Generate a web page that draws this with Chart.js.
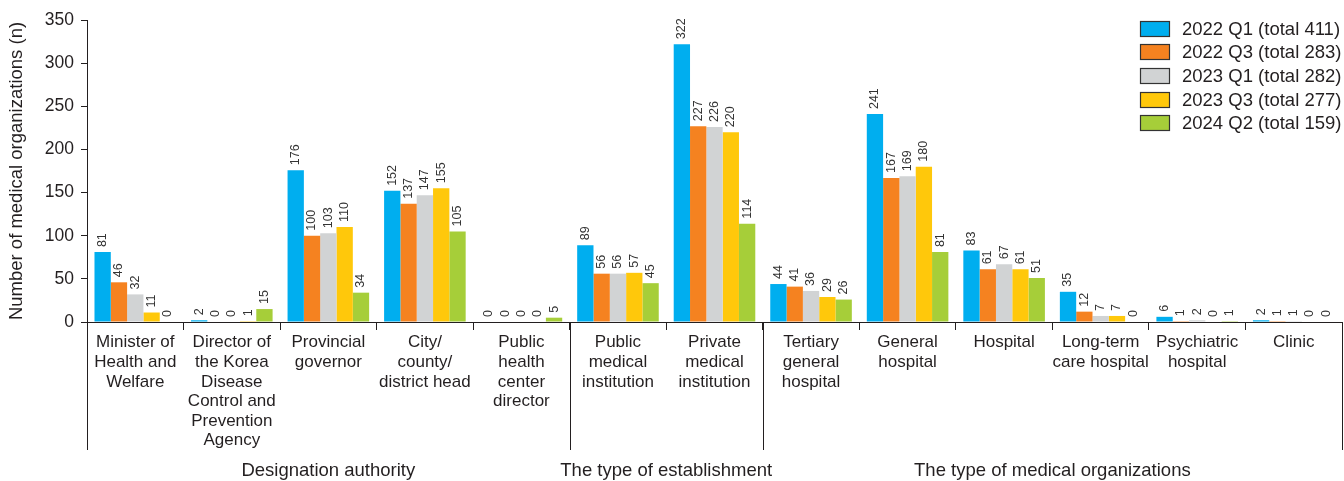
<!DOCTYPE html>
<html>
<head>
<meta charset="utf-8">
<script src="https://cdn.jsdelivr.net/npm/chart.js@4/dist/chart.umd.min.js"></script>
<style>
html,body{margin:0;padding:0;background:#fff;}
#wrap{width:1344px;height:481px;}
</style>
</head>
<body>
<div id="wrap"><canvas id="c" width="1344" height="481"></canvas></div>
<script>
const categories = [
  ["Minister of","Health and","Welfare"],
  ["Director of","the Korea","Disease","Control and","Prevention","Agency"],
  ["Provincial","governor"],
  ["City/","county/","district head"],
  ["Public","health","center","director"],
  ["Public","medical","institution"],
  ["Private","medical","institution"],
  ["Tertiary","general","hospital"],
  ["General","hospital"],
  ["Hospital"],
  ["Long-term","care hospital"],
  ["Psychiatric","hospital"],
  ["Clinic"]
];
const groupLabels = ["Designation authority","The type of establishment","The type of medical organizations"];
const groupSizes = [5,2,6];
const seriesLabels = ["2022 Q1 (total 411)","2022 Q3 (total 283)","2023 Q1 (total 282)","2023 Q3 (total 277)","2024 Q2 (total 159)"];
const s2022Q1 = [81,2,176,152,0,89,322,44,241,83,35,6,2];
const s2022Q3 = [46,0,100,137,0,56,227,41,167,61,12,1,1];
const s2023Q1 = [32,0,103,147,0,56,226,36,169,67,7,2,1];
const s2023Q3 = [11,1,110,155,0,57,220,29,180,61,7,0,0];
const s2024Q2 = [0,15,34,105,5,45,114,26,81,51,0,1,0];
const yTicks = [0,50,100,150,200,250,300,350];
const colors = ["#00AEEF","#F58220","#D1D3D4","#FFC80B","#A6CE39"];
const ink = "#231F20";
const FONT = "'Liberation Sans', Arial, sans-serif";

const allSeries = [s2022Q1,s2022Q3,s2023Q1,s2023Q3,s2024Q2];

const overlay = {
  id:'overlay',
  afterDatasetsDraw(chart){
    const ctx = chart.ctx;
    const xs = chart.scales.x, ys = chart.scales.y;
    // value labels
    ctx.save();
    ctx.fillStyle = "#333";
    ctx.font = "12.5px " + FONT;
    ctx.textAlign = "left";
    ctx.textBaseline = "middle";
    chart.data.datasets.forEach((ds,i)=>{
      const meta = chart.getDatasetMeta(i);
      meta.data.forEach((bar,j)=>{
        ctx.save();
        ctx.translate(bar.x, bar.y - 5);
        ctx.rotate(-Math.PI/2);
        ctx.fillText(String(ds.data[j]), 0, 0);
        ctx.restore();
      });
    });
    ctx.restore();
    // group separators and labels
    const bottom = ys.bottom;
    const catW = (xs.right - xs.left)/categories.length;
    ctx.save();
    ctx.strokeStyle = ink;
    ctx.lineWidth = 1;
    let idx = 0;
    const bounds = [0];
    groupSizes.forEach(n=>{ idx += n; bounds.push(idx); });
    bounds.forEach(b=>{
      const x = Math.round(xs.left + b*catW) + 0.5;
      ctx.beginPath();
      ctx.moveTo(x, bottom);
      ctx.lineTo(x, bottom + 128);
      ctx.stroke();
    });
    ctx.fillStyle = ink;
    ctx.font = "18.5px " + FONT;
    ctx.textAlign = "center";
    ctx.textBaseline = "middle";
    groupLabels.forEach((g,k)=>{
      const cx = xs.left + (bounds[k]+bounds[k+1])/2*catW;
      ctx.fillText(g, cx, 471);
    });
    ctx.restore();
    // legend
    ctx.save();
    ctx.font = "18.5px " + FONT;
    ctx.textAlign = "left";
    ctx.textBaseline = "middle";
    seriesLabels.forEach((lab,i)=>{
      const cy = 28.5 + i*23.7;
      const top = Math.round(cy-8)+0.5;
      ctx.fillStyle = colors[i];
      ctx.fillRect(1140.5, top, 29, 15);
      ctx.strokeStyle = "#333";
      ctx.lineWidth = 1.2;
      ctx.strokeRect(1140.5, top, 29, 15);
      ctx.fillStyle = ink;
      ctx.fillText(lab, 1182, cy+1);
    });
    ctx.restore();
  }
};

new Chart(document.getElementById('c'), {
  type:'bar',
  data:{
    labels: categories,
    datasets: allSeries.map((d,i)=>({
      label: seriesLabels[i],
      data: d,
      backgroundColor: colors[i],
      borderWidth: 0,
      categoryPercentage: 0.845,
      barPercentage: 1.0
    }))
  },
  options:{
    responsive:false,
    animation:false,
    devicePixelRatio:1,
    layout:{padding:{top:20,right:2,left:0,bottom:0}},
    plugins:{legend:{display:false},tooltip:{enabled:false}},
    scales:{
      x:{
        grid:{display:true,offset:true,drawOnChartArea:false,tickLength:8,color:ink,lineWidth:1},
        border:{display:true,color:ink,width:1},
        ticks:{color:ink,font:{family:FONT,size:17,lineHeight:1.15},maxRotation:0,minRotation:0,autoSkip:false,padding:3},
        afterFit(s){ s.height = 159; }
      },
      y:{
        min:0,max:350,
        afterBuildTicks(s){ s.ticks = yTicks.map(v=>({value:v})); },
        grid:{display:true,drawOnChartArea:false,tickLength:6,color:ink},
        border:{display:true,color:ink,width:1},
        ticks:{color:ink,font:{family:FONT,size:17.5},padding:7},
        title:{display:true,text:"Number of medical organizations (n)",color:ink,font:{family:FONT,size:18.5},padding:{top:6,bottom:0}},
        afterFit(s){ s.width = 87; }
      }
    }
  },
  plugins:[overlay]
});
</script>
</body>
</html>
